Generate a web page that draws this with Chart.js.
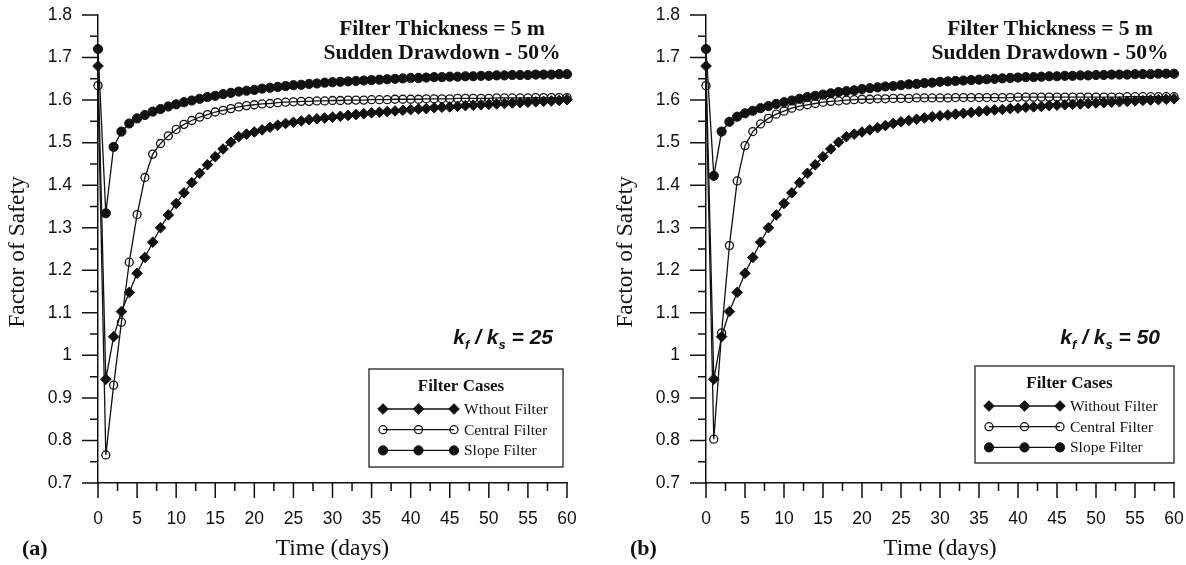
<!DOCTYPE html>
<html>
<head>
<meta charset="utf-8">
<title>Factor of Safety vs Time</title>
<script src="https://cdn.jsdelivr.net/npm/chart.js@4.4.1/dist/chart.umd.min.js"></script>
<style>
  html, body { margin: 0; padding: 0; background: #ffffff; }
  #wrap { position: relative; width: 1186px; height: 565px; overflow: hidden; }
  .panel { position: absolute; top: 0; width: 593px; height: 565px; }
</style>
</head>
<body>
<div id="wrap">
  <div class="panel" style="left:0"><canvas id="chartA" width="593" height="565"></canvas></div>
  <div class="panel" style="left:593px"><canvas id="chartB" width="593" height="565"></canvas></div>
</div>
<script>
// ---- time axis (days) ----
const days = [0,1,2,3,4,5,6,7,8,9,10,11,12,13,14,15,16,17,18,19,20,
  21,22,23,24,25,26,27,28,29,30,31,32,33,34,35,36,37,38,39,40,
  41,42,43,44,45,46,47,48,49,50,51,52,53,54,55,56,57,58,59,60];

// ---- tick marks and labels ----
const xTickValues = [0,5,10,15,20,25,30,35,40,45,50,55,60];
const xTickLabels = ['0','5','10','15','20','25','30','35','40','45','50','55','60'];
const xMinorTicks = [2.5,7.5,12.5,17.5,22.5,27.5,32.5,37.5,42.5,47.5,52.5,57.5];
const yTickValues = [0.7,0.8,0.9,1.0,1.1,1.2,1.3,1.4,1.5,1.6,1.7,1.8];
const yTickLabels = ['0.7','0.8','0.9','1','1.1','1.2','1.3','1.4','1.5','1.6','1.7','1.8'];
const yMinorTicks = [0.75,0.85,0.95,1.05,1.15,1.25,1.35,1.45,1.55,1.65,1.75];

// ---- text ----
const headerLines = ['Filter Thickness = 5 m', 'Sudden Drawdown - 50%'];
const xTitle = 'Time (days)';
const yTitle = 'Factor of Safety';
const legendTitle = 'Filter Cases';
const legendLabelsA = ['Wthout Filter', 'Central Filter', 'Slope Filter'];
const legendLabelsB = ['Without Filter', 'Central Filter', 'Slope Filter'];

// ---- (a) kf/ks = 25 ----
const withoutFilterA = [1.680,0.944,1.044,1.103,1.148,1.193,1.230,1.266,1.300,1.330,1.357,
  1.382,1.406,1.428,1.448,1.467,1.485,1.501,1.514,1.520,1.525,
  1.530,1.536,1.541,1.545,1.548,1.551,1.554,1.556,1.558,1.560,
  1.562,1.564,1.566,1.568,1.570,1.5715,1.573,1.5745,1.576,1.5775,
  1.579,1.580,1.582,1.583,1.584,1.5855,1.587,1.588,1.589,1.590,
  1.591,1.592,1.593,1.594,1.595,1.596,1.597,1.598,1.599,1.601];
const centralFilterA = [1.634,0.766,0.930,1.078,1.219,1.331,1.418,1.473,1.498,1.516,1.531,
  1.543,1.552,1.560,1.566,1.572,1.576,1.580,1.584,1.587,1.589,
  1.591,1.592,1.594,1.595,1.596,1.597,1.597,1.598,1.598,1.599,
  1.599,1.600,1.600,1.600,1.601,1.601,1.601,1.602,1.602,1.602,
  1.602,1.603,1.603,1.603,1.603,1.604,1.604,1.604,1.604,1.604,
  1.605,1.605,1.605,1.605,1.605,1.606,1.606,1.606,1.606,1.606];
const slopeFilterA = [1.720,1.334,1.490,1.526,1.545,1.557,1.565,1.573,1.579,1.585,1.590,
  1.595,1.599,1.603,1.607,1.610,1.614,1.617,1.620,1.622,1.624,
  1.627,1.629,1.631,1.633,1.635,1.636,1.638,1.639,1.641,1.642,
  1.643,1.644,1.645,1.646,1.647,1.648,1.649,1.650,1.651,1.652,
  1.652,1.653,1.654,1.654,1.655,1.655,1.656,1.656,1.657,1.657,
  1.658,1.658,1.659,1.659,1.659,1.660,1.660,1.660,1.661,1.661];

// ---- (b) kf/ks = 50 ----
const withoutFilterB = [1.680,0.944,1.044,1.103,1.148,1.193,1.230,1.266,1.300,1.330,1.357,
  1.382,1.406,1.428,1.448,1.467,1.485,1.501,1.514,1.520,1.525,
  1.530,1.535,1.540,1.545,1.549,1.552,1.555,1.558,1.561,1.563,
  1.565,1.567,1.569,1.571,1.573,1.575,1.577,1.578,1.580,1.581,
  1.583,1.584,1.585,1.587,1.588,1.589,1.590,1.591,1.592,1.593,
  1.594,1.595,1.596,1.597,1.598,1.599,1.600,1.601,1.602,1.603];
const centralFilterB = [1.634,0.803,1.053,1.258,1.410,1.493,1.526,1.544,1.557,1.567,1.574,
  1.581,1.586,1.589,1.592,1.595,1.597,1.598,1.600,1.601,1.602,
  1.602,1.603,1.603,1.604,1.604,1.604,1.605,1.605,1.605,1.605,
  1.605,1.606,1.606,1.606,1.606,1.606,1.606,1.606,1.606,1.607,
  1.607,1.607,1.607,1.607,1.607,1.607,1.607,1.607,1.607,1.607,
  1.607,1.607,1.607,1.608,1.608,1.608,1.608,1.608,1.608,1.608];
const slopeFilterB = [1.720,1.422,1.526,1.549,1.561,1.569,1.575,1.581,1.586,1.591,1.595,
  1.599,1.603,1.607,1.610,1.613,1.616,1.619,1.621,1.623,1.626,
  1.628,1.630,1.632,1.633,1.635,1.637,1.638,1.640,1.641,1.643,
  1.644,1.645,1.646,1.647,1.648,1.649,1.650,1.651,1.652,1.653,
  1.654,1.654,1.655,1.656,1.656,1.657,1.657,1.658,1.658,1.659,
  1.659,1.660,1.660,1.660,1.661,1.661,1.661,1.662,1.662,1.662];

const INK = '#111111';
const TICK_FONT = '"Liberation Sans", Arial, sans-serif';
const SERIF = '"Liberation Serif", "Times New Roman", serif';

// marker look for the three filter cases
const markerStyles = [
  { pointStyle: 'rectRot', radius: 5.3, fill: INK, border: 1 },
  { pointStyle: 'circle', radius: 4.0, fill: 'rgba(0,0,0,0)', border: 1.3 },
  { pointStyle: 'circle', radius: 4.6, fill: INK, border: 1 }
];

function drawMarker(ctx, style, x, y) {
  ctx.save();
  ctx.lineWidth = style.border;
  ctx.strokeStyle = INK;
  ctx.fillStyle = style.fill;
  ctx.beginPath();
  if (style.pointStyle === 'rectRot') {
    const r = style.radius;
    ctx.moveTo(x, y - r); ctx.lineTo(x + r, y); ctx.lineTo(x, y + r); ctx.lineTo(x - r, y);
    ctx.closePath();
  } else {
    ctx.arc(x, y, style.radius, 0, Math.PI * 2);
  }
  ctx.fill();
  ctx.stroke();
  ctx.restore();
}

// ticks, titles, annotation text and the boxed legend
const decorPlugin = {
  id: 'decor',
  afterDraw(chart, args, o) {
    const { ctx, chartArea: ca } = chart;
    const x = chart.scales.x, y = chart.scales.y;
    ctx.save();
    ctx.strokeStyle = INK;
    ctx.lineWidth = 1.5;
    ctx.beginPath();
    yTickValues.forEach(v => { const p = y.getPixelForValue(v); ctx.moveTo(ca.left - 16, p); ctx.lineTo(ca.left, p); });
    yMinorTicks.forEach(v => { const p = y.getPixelForValue(v); ctx.moveTo(ca.left - 8, p); ctx.lineTo(ca.left, p); });
    xTickValues.forEach(v => { const p = x.getPixelForValue(v); ctx.moveTo(p, ca.bottom); ctx.lineTo(p, ca.bottom + 15); });
    xMinorTicks.forEach(v => { const p = x.getPixelForValue(v); ctx.moveTo(p, ca.bottom); ctx.lineTo(p, ca.bottom + 8); });
    ctx.stroke();

    ctx.fillStyle = INK;
    ctx.textBaseline = 'middle';

    // axis titles
    ctx.font = '23.5px ' + SERIF;
    ctx.textAlign = 'center';
    ctx.fillText(xTitle, (ca.left + ca.right) / 2, 549);
    ctx.save();
    ctx.translate(ca.left - 80, (ca.top + ca.bottom) / 2 + 3);
    ctx.rotate(-Math.PI / 2);
    ctx.fillText(yTitle, 0, 0);
    ctx.restore();

    // panel tag
    ctx.font = 'bold 22px ' + SERIF;
    ctx.textAlign = 'left';
    ctx.fillText(o.tag, ca.left - 76, 549);

    // header
    ctx.font = 'bold 21.5px ' + SERIF;
    ctx.textAlign = 'center';
    headerLines.forEach((t, i) => ctx.fillText(t, ca.left + 344, 29 + i * 24));

    // permeability ratio  k_f / k_s = n
    const big = 'italic bold 21px "Liberation Sans", Arial, sans-serif';
    const small = 'italic bold 13px "Liberation Sans", Arial, sans-serif';
    const parts = [
      { t: 'k', f: big, dy: 0 },
      { t: 'f', f: small, dy: 5 },
      { t: ' / k', f: big, dy: 0 },
      { t: 's', f: small, dy: 5 },
      { t: ' = ' + o.ratio, f: big, dy: 0 }
    ];
    let total = 0;
    parts.forEach(p => { ctx.font = p.f; p.w = ctx.measureText(p.t).width; total += p.w; });
    let cx = ca.right - 14 - total;
    ctx.textBaseline = 'alphabetic';
    ctx.textAlign = 'left';
    parts.forEach(p => { ctx.font = p.f; ctx.fillText(p.t, cx, 344 + p.dy); cx += p.w; });

    // legend box
    const b = o.legendBox;
    const bx = ca.right - b.fromRight;
    ctx.lineWidth = 1.4;
    ctx.strokeStyle = '#333333';
    ctx.strokeRect(bx, b.top, b.width, b.height);
    ctx.textBaseline = 'middle';
    ctx.font = 'bold 17px ' + SERIF;
    ctx.textAlign = 'center';
    ctx.fillText(legendTitle, bx + b.width / 2 - 5, b.top + 18);
    ctx.font = '15.5px ' + SERIF;
    ctx.textAlign = 'left';
    o.labels.forEach((lab, i) => {
      const ry = b.top + 40 + i * 20.7;
      ctx.strokeStyle = INK;
      ctx.lineWidth = 1.3;
      ctx.beginPath();
      ctx.moveTo(bx + 14, ry); ctx.lineTo(bx + 85, ry);
      ctx.stroke();
      [14, 49.5, 85].forEach(dx => drawMarker(ctx, markerStyles[i], bx + dx, ry));
      ctx.fillStyle = INK;
      ctx.fillText(lab, bx + 95, ry + 1);
    });
    ctx.restore();
  }
};

function makeDataset(label, values, style) {
  return {
    label: label,
    data: days.map((d, i) => ({ x: d, y: values[i] })),
    borderColor: INK,
    borderWidth: 1.3,
    tension: 0,
    fill: false,
    clip: false,
    pointStyle: style.pointStyle,
    pointRadius: style.radius,
    pointBackgroundColor: style.fill,
    pointBorderColor: INK,
    pointBorderWidth: style.border
  };
}

// the gap between axis line and tick labels comes from an invisible tick mark,
// so the label padding does not eat into the plot area
function makePanel(canvasId, series, opts) {
  return new Chart(document.getElementById(canvasId), {
    type: 'line',
    data: {
      datasets: [
        makeDataset(opts.labels[0], series[0], markerStyles[0]),
        makeDataset(opts.labels[1], series[1], markerStyles[1]),
        makeDataset(opts.labels[2], series[2], markerStyles[2])
      ]
    },
    options: {
      responsive: false,
      animation: false,
      events: [],
      layout: { padding: { top: 15, right: opts.padRight, bottom: 0, left: 0 } },
      plugins: {
        legend: { display: false },
        tooltip: { enabled: false },
        decor: opts
      },
      scales: {
        x: {
          type: 'linear', min: 0, max: 60,
          afterBuildTicks: s => { s.ticks = xTickValues.map(v => ({ value: v })); },
          afterFit: s => { s.height = 82; },
          ticks: {
            autoSkip: false, maxRotation: 0, padding: 0, color: INK,
            font: { family: TICK_FONT, size: 17.5 },
            callback: (v, i) => xTickLabels[i]
          },
          grid: { display: true, drawOnChartArea: false, drawTicks: true, tickLength: 26, tickColor: 'rgba(0,0,0,0)' },
          border: { display: true, color: INK, width: 1.5 }
        },
        y: {
          type: 'linear', min: 0.7, max: 1.8,
          afterBuildTicks: s => { s.ticks = yTickValues.map(v => ({ value: v })); },
          afterFit: s => { s.width = opts.plotLeft; },
          ticks: {
            autoSkip: false, padding: 0, color: INK,
            font: { family: TICK_FONT, size: 17.5 },
            callback: (v, i) => yTickLabels[i]
          },
          grid: { display: true, drawOnChartArea: false, drawTicks: true, tickLength: 26, tickColor: 'rgba(0,0,0,0)' },
          border: { display: true, color: INK, width: 1.5 }
        }
      }
    },
    plugins: [decorPlugin]
  });
}

makePanel('chartA', [withoutFilterA, centralFilterA, slopeFilterA], {
  tag: '(a)', ratio: '25', labels: legendLabelsA,
  plotLeft: 98, padRight: 26,
  legendBox: { fromRight: 198, top: 369, width: 194, height: 98 }
});
makePanel('chartB', [withoutFilterB, centralFilterB, slopeFilterB], {
  tag: '(b)', ratio: '50', labels: legendLabelsB,
  plotLeft: 113, padRight: 12,
  legendBox: { fromRight: 199, top: 366, width: 199, height: 97 }
});
</script>
</body>
</html>
